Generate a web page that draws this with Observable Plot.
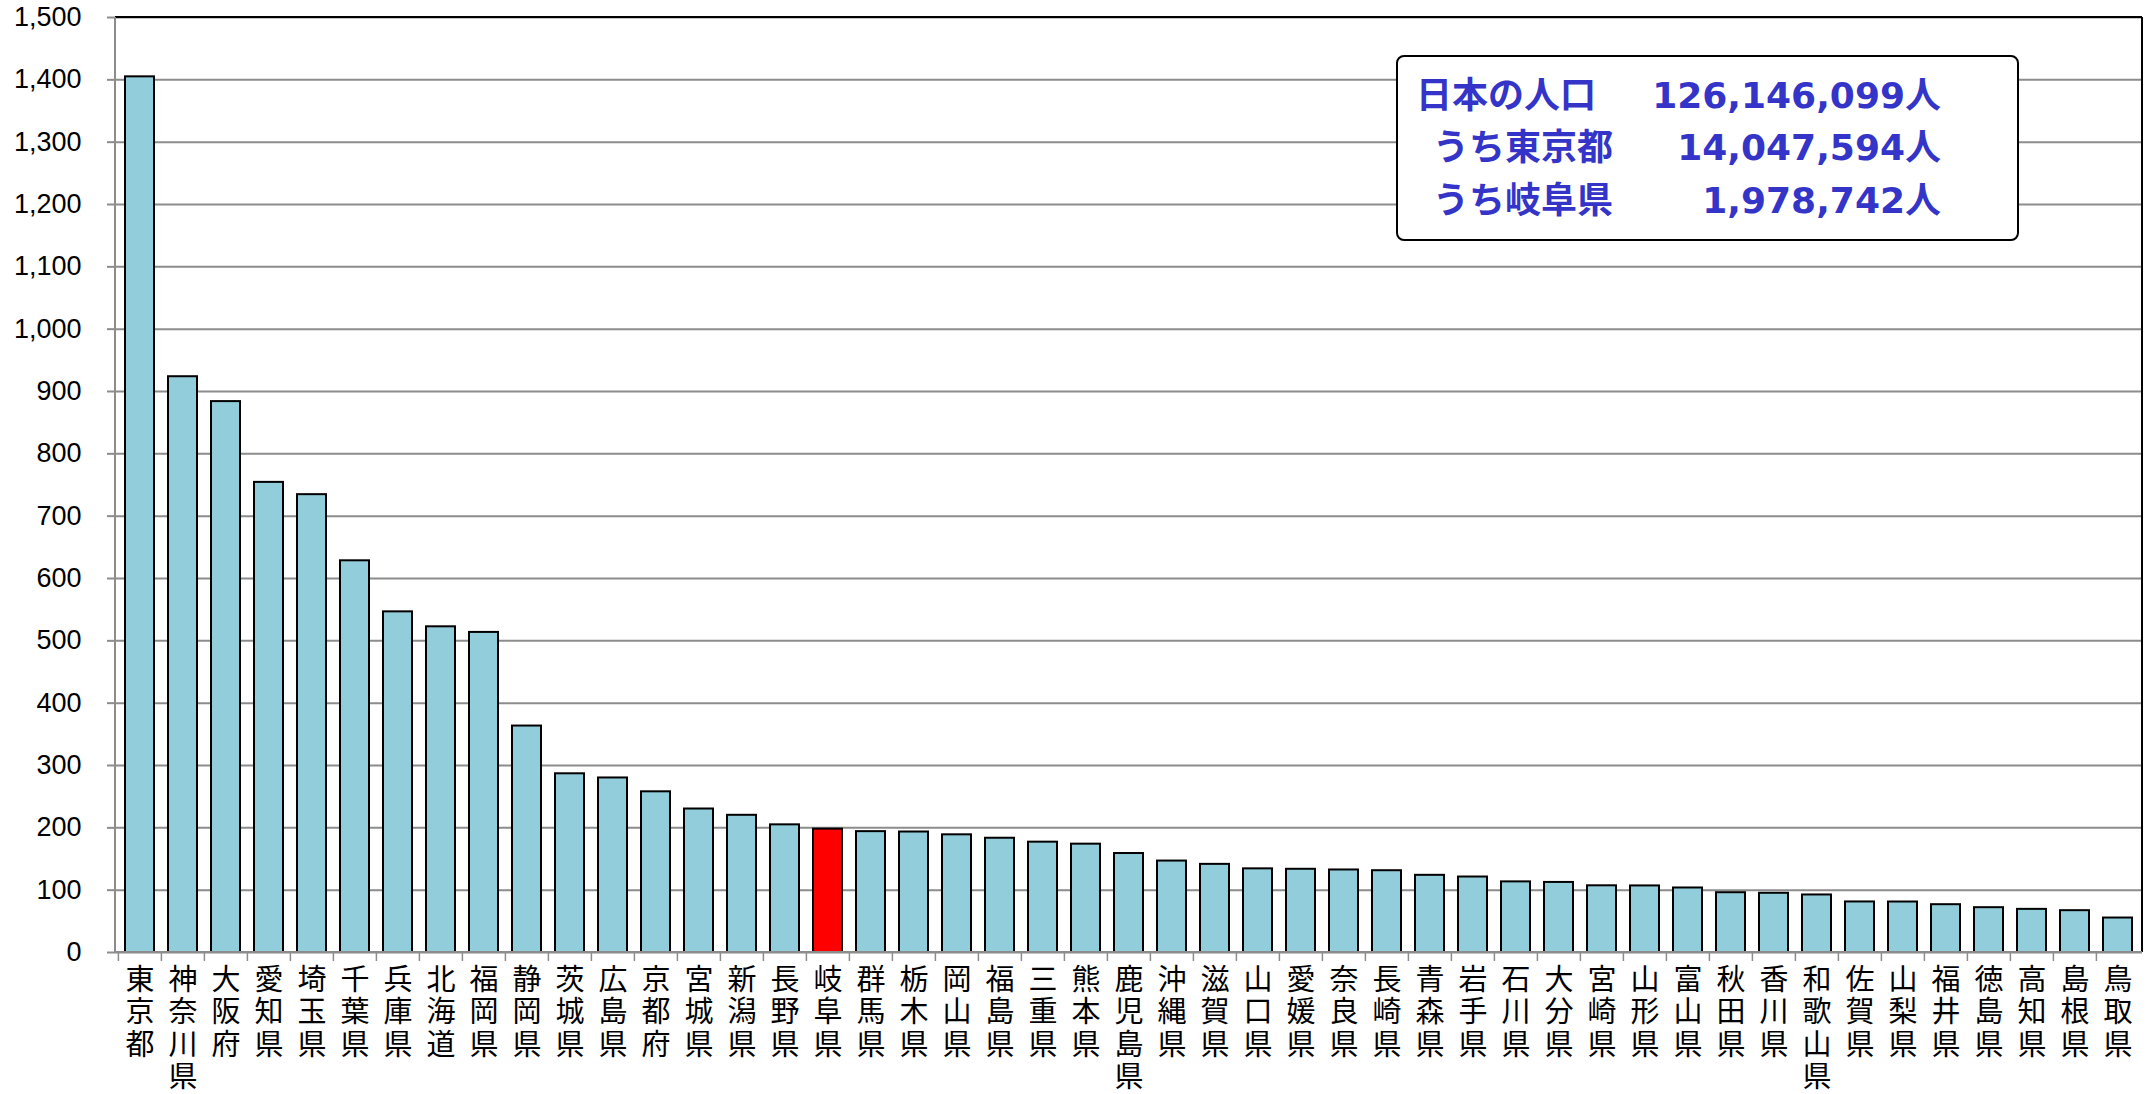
<!DOCTYPE html>
<html>
<head>
<meta charset="utf-8">
<script src="https://cdn.jsdelivr.net/npm/d3@7"></script>
<script src="https://cdn.jsdelivr.net/npm/@observablehq/plot@0.6"></script>
<style>
  html, body { margin: 0; padding: 0; background: #fff; }
  #wrap { position: relative; width: 2146px; height: 1094px; overflow: hidden; }
  #legend {
    position: absolute; left: 1396px; top: 55px; width: 619px; height: 182px;
    border: 2px solid #000; border-radius: 8px; background: #fff;
    font-family: "DejaVu Sans", "Noto Sans CJK JP", sans-serif; font-weight: bold;
    color: #3434C8; font-size: 36px;
  }
  #legend .row { position: absolute; left: 0; right: 0; height: 52px; line-height: 52px; white-space: nowrap; }
  #legend .lab { position: absolute; }
  #legend .val { position: absolute; right: 76px; }
</style>
</head>
<body>
<div id="wrap"><div id="chart"></div><div id="legend"></div></div>
<script>
// ---- data (人口, 万人) ----
const prefectures = ["東京都","神奈川県","大阪府","愛知県","埼玉県","千葉県","兵庫県","北海道","福岡県","静岡県",
  "茨城県","広島県","京都府","宮城県","新潟県","長野県","岐阜県","群馬県","栃木県","岡山県",
  "福島県","三重県","熊本県","鹿児島県","沖縄県","滋賀県","山口県","愛媛県","奈良県","長崎県",
  "青森県","岩手県","石川県","大分県","宮崎県","山形県","富山県","秋田県","香川県","和歌山県",
  "佐賀県","山梨県","福井県","徳島県","高知県","島根県","鳥取県"];
const population = [1404.8, 923.7, 883.8, 754.2, 734.5, 628.4, 546.5, 522.5, 513.5, 363.3,
  286.7, 280.0, 257.8, 230.2, 220.1, 204.8, 197.9, 193.9, 193.3, 188.8,
  183.3, 177.0, 173.8, 158.8, 146.7, 141.4, 134.2, 133.5, 132.4, 131.2,
  123.8, 121.1, 113.3, 112.4, 107.0, 106.8, 103.5, 95.9, 95.0, 92.3,
  81.1, 81.0, 76.7, 71.9, 69.2, 67.1, 55.3];
const highlight = "岐阜県";
const yTicks = [0,100,200,300,400,500,600,700,800,900,1000,1100,1200,1300,1400,1500];
const legendLabels = ["日本の人口", "うち東京都", "うち岐阜県"];
const legendValues = ["126,146,099人", "14,047,594人", "1,978,742人"];

const data = prefectures.map((p, i) => ({pref: p, pop: population[i]}));

const W = 2146, H = 1094, ML = 115, MR = 4, MT = 17, MB = 142;
const PI = 0.32, PO = 0.12;
const step = (W - ML - MR) / (prefectures.length - PI + 2 * PO);

function frameLines(index, scales, values, dims) {
  const x0 = dims.marginLeft, x1 = dims.width - dims.marginRight;
  const y0 = dims.marginTop, y1 = dims.height - dims.marginBottom;
  const g = d3.create("svg:g");
  g.append("line").attr("x1", x0).attr("x2", x1).attr("y1", y0).attr("y2", y0).attr("stroke", "#000").attr("stroke-width", 2);
  g.append("line").attr("x1", x1).attr("x2", x1).attr("y1", y0).attr("y2", y1).attr("stroke", "#000").attr("stroke-width", 2);
  g.append("line").attr("x1", x0).attr("x2", x0).attr("y1", y0).attr("y2", y1).attr("stroke", "#8c8c8c").attr("stroke-width", 2);
  g.append("line").attr("x1", x0).attr("x2", x1).attr("y1", y1).attr("y2", y1).attr("stroke", "#8c8c8c").attr("stroke-width", 2);
  return g.node();
}

const chart = Plot.plot({
  width: W, height: H,
  marginLeft: ML, marginRight: MR, marginTop: MT, marginBottom: MB,
  style: {fontFamily: "'Liberation Sans', 'Noto Sans CJK JP', sans-serif", background: "white", color: "black", overflow: "visible"},
  x: {domain: prefectures, paddingInner: PI, paddingOuter: PO, label: null},
  y: {domain: [0, 1500], label: null},
  marks: [
    Plot.gridY(yTicks, {stroke: "#8c8c8c", strokeOpacity: 1, strokeWidth: 2}),
    Plot.barY(data.filter(d => d.pref !== highlight), {x: "pref", y: "pop", fill: "#92CDDC", stroke: "#000", strokeWidth: 2}),
    Plot.barY(data.filter(d => d.pref === highlight), {x: "pref", y: "pop", fill: "#FF0000", stroke: "#000", strokeWidth: 2}),
    frameLines,
    Plot.axisY(yTicks, {tickFormat: d3.format(","), tickSize: 8, tickPadding: 26, fontSize: 27, stroke: "#8c8c8c", strokeWidth: 2, fill: "#000"}),
    Plot.axisX({tickSize: 9, tickFormat: () => "", dx: -step / 2, stroke: "#8c8c8c", strokeWidth: 1.5}),
    Plot.axisX({tickSize: 0, tickPadding: 14, tickFormat: d => Array.from(d).join("\n"), fontSize: 29, lineHeight: 1.12, fill: "#000"})
  ]
});
document.getElementById("chart").appendChild(chart);

const legend = document.getElementById("legend");
const labelLeft = [18, 35, 35];
const rowTop = [13, 65, 118];
legendLabels.forEach((lab, i) => {
  const row = document.createElement("div");
  row.className = "row";
  row.style.top = rowTop[i] + "px";
  const a = document.createElement("span"); a.className = "lab"; a.style.left = labelLeft[i] + "px"; a.textContent = lab;
  const b = document.createElement("span"); b.className = "val"; b.textContent = legendValues[i];
  row.appendChild(a); row.appendChild(b);
  legend.appendChild(row);
});
</script>
</body>
</html>
